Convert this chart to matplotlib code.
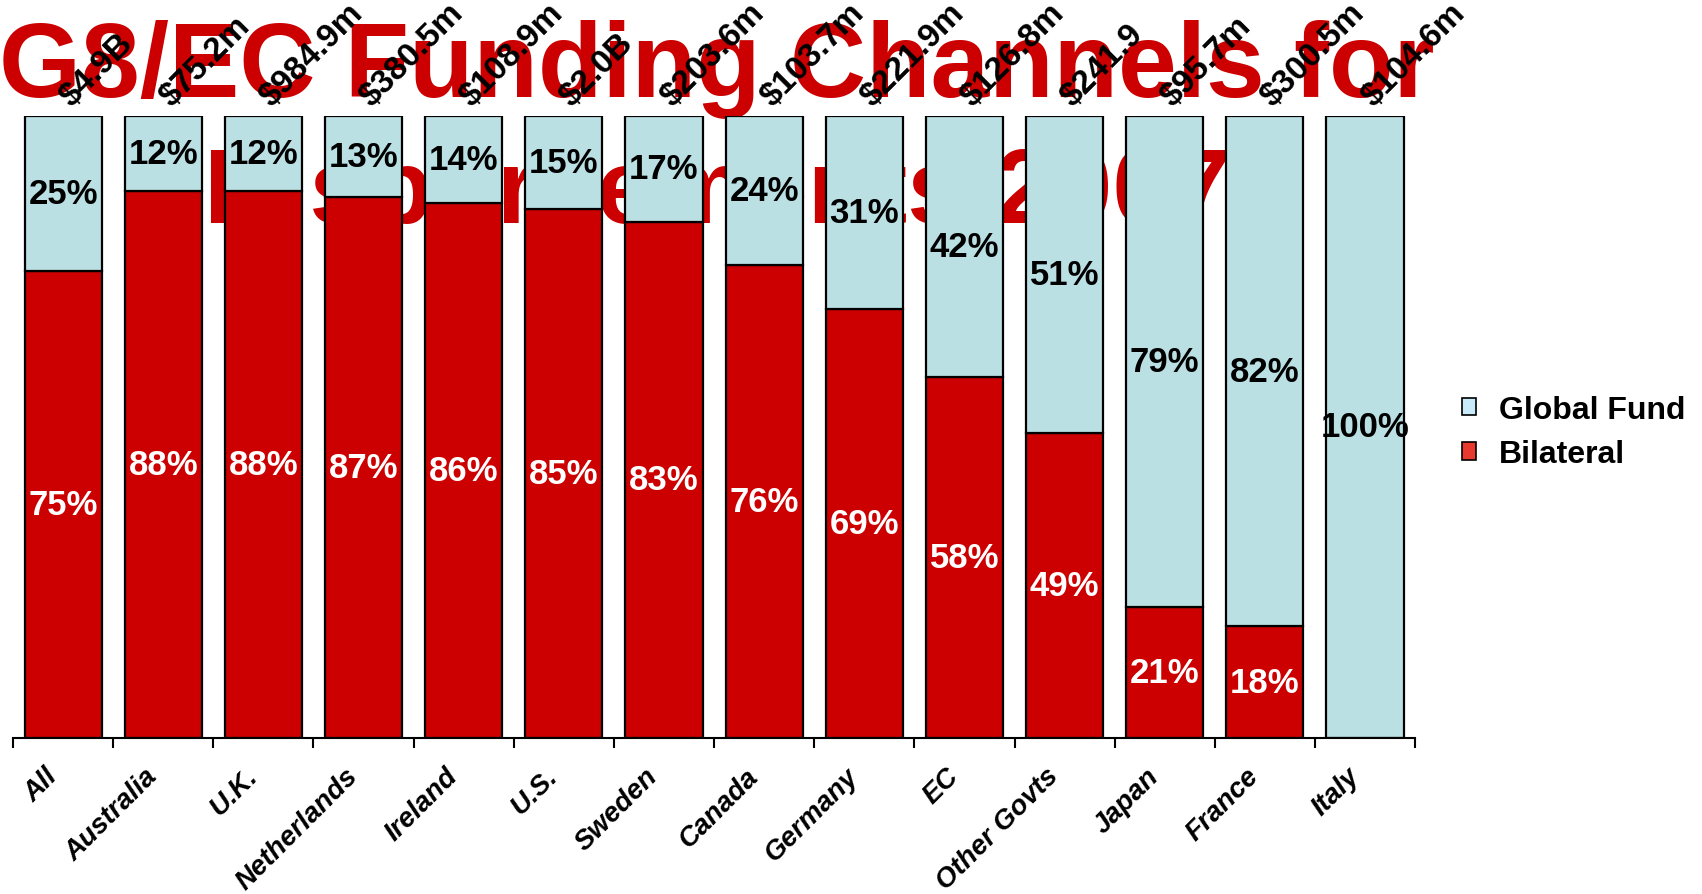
import matplotlib
matplotlib.use("Agg")
import matplotlib.pyplot as plt
from matplotlib import font_manager
from matplotlib.patches import Patch
from matplotlib.transforms import ScaledTranslation
import numpy as np

categories = ["All", "Australia", "U.K.", "Netherlands", "Ireland", "U.S.", "Sweden",
              "Canada", "Germany", "EC", "Other Govts", "Japan", "France", "Italy"]
bilateral = [75, 88, 88, 87, 86, 85, 83, 76, 69, 58, 49, 21, 18, 0]
global_fund = [25, 12, 12, 13, 14, 15, 17, 24, 31, 42, 51, 79, 82, 100]
totals = ["$4.9B", "$75.2m", "$984.9m", "$380.5m", "$108.9m", "$2.0B", "$203.6m",
          "$103.7m", "$221.9m", "$126.8m", "$241.9", "$95.7m", "$300.5m", "$104.6m"]
title_lines = ["G8/EC Funding Channels for", "Disbursements 2007"]

RED = "#CC0000"
BLUE = "#BAE0E4"

names = {f.name for f in font_manager.fontManager.ttflist}
narrow = "Liberation Sans Narrow" if "Liberation Sans Narrow" in names else "Liberation Sans"
plt.rcParams["font.family"] = ["Liberation Sans", "DejaVu Sans"]

fig = plt.figure(figsize=(17.02, 8.95), dpi=100)
ax = fig.add_axes([0.00764, 0.1743, 0.8238, 0.695])
ax.set_facecolor("none")

# big title sits behind the bars
fig.text(0.4213, 0.8916, title_lines[0], color=RED, fontsize=76, fontweight="bold",
         ha="center", va="baseline", zorder=-1)
fig.text(0.4213, 0.7508, title_lines[1], color=RED, fontsize=76, fontweight="bold",
         ha="center", va="baseline", zorder=-1)

x = np.arange(len(categories))
bil = np.array(bilateral) / 100.0
gf = np.array(global_fund) / 100.0

ax.bar(x, bil, width=0.77, color=RED, edgecolor="black", linewidth=1.6, zorder=2)
ax.bar(x, gf, width=0.77, bottom=bil, color=BLUE, edgecolor="black", linewidth=1.6, zorder=2)

for i in range(len(categories)):
    if bilateral[i] > 0:
        ax.text(x[i], bil[i] / 2, f"{bilateral[i]}%", color="white", fontsize=25,
                fontweight="bold", family=narrow, ha="center", va="center", zorder=3)
    ax.text(x[i], bil[i] + gf[i] / 2, f"{global_fund[i]}%", color="black", fontsize=25,
            fontweight="bold", family=narrow, ha="center", va="center", zorder=3)
    ax.text(x[i] + 0.13, 1.006, totals[i], color="black", fontsize=24, fontweight="bold",
            rotation=45, rotation_mode="anchor", ha="left", va="bottom", zorder=3)

ax.set_xlim(-0.5, len(categories) - 0.5)
ax.set_ylim(0, 1)
ax.set_yticks([])
for side in ["top", "left", "right"]:
    ax.spines[side].set_visible(False)
ax.spines["bottom"].set_linewidth(1.5)

ax.set_xticks(x)
ax.set_xticklabels(categories, rotation=45, ha="right", va="top", rotation_mode="anchor",
                   fontsize=20, fontweight="bold", fontstyle="italic")
ax.tick_params(axis="x", which="major", length=0, pad=17)
shift = ScaledTranslation(-0.19, -0.01, fig.dpi_scale_trans)
for lab in ax.get_xticklabels():
    lab.set_transform(lab.get_transform() + shift)
ax.set_xticks(np.arange(len(categories) + 1) - 0.5, minor=True)
ax.tick_params(axis="x", which="minor", length=7.5, width=1.5, direction="out")

handles = [Patch(facecolor="#C8EBFA", edgecolor="black", linewidth=1.2, label="Global Fund"),
           Patch(facecolor="#E8392F", edgecolor="black", linewidth=1.2, label="Bilateral")]
leg = fig.legend(handles=handles, loc="center left", bbox_to_anchor=(0.859, 0.516),
                 frameon=False, prop={"weight": "bold", "size": 23},
                 handlelength=0.45, handleheight=0.45, handletextpad=0.7,
                 labelspacing=0.45, borderpad=0, borderaxespad=0)

fig.savefig("out.png", dpi=100)
